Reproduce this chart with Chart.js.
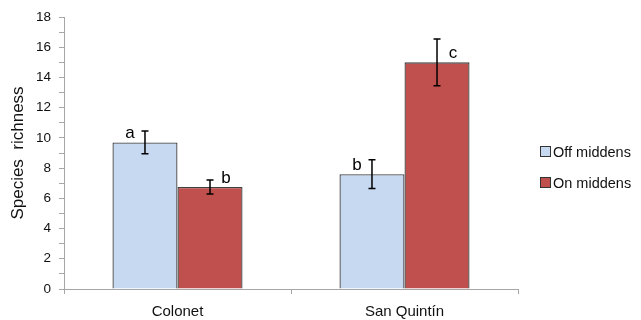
<!DOCTYPE html>
<html>
<head>
<meta charset="utf-8">
<script src="https://cdn.jsdelivr.net/npm/chart.js@4"></script>
<style>
  html, body { margin: 0; padding: 0; background: #fff; }
  #wrap { width: 641px; height: 320px; position: relative; }
</style>
</head>
<body>
<div id="wrap"><canvas id="chart" width="641" height="320"></canvas></div>
<script>
const categories = ['Colonet', 'San Quintín']
const seriesNames = ['Off middens', 'On middens']
const offMiddens = [9.7, 7.6]
const onMiddens = [6.75, 15.0]
const offErr = [0.75, 0.95]
const onErr = [0.47, 1.55]
const offLetters = ['a', 'b']
const onLetters = ['b', 'c']
const yTicks = [0, 2, 4, 6, 8, 10, 12, 14, 16, 18]

const FONT = "'Liberation Sans', Arial, sans-serif"

// error bars + significance letters, placed through the scales
const errorBars = {
    id: 'errorBars',
    afterDatasetsDraw(chart) {
        let ctx = chart.ctx
        let y = chart.scales.y
        let errs = [offErr, onErr]
        let letters = [offLetters, onLetters]
        chart.data.datasets.forEach((ds, di) => {
            let meta = chart.getDatasetMeta(di)
            meta.data.forEach((bar, i) => {
                let v = ds.data[i]
                let e = errs[di][i]
                let x = bar.x
                let top = y.getPixelForValue(v + e)
                let bot = y.getPixelForValue(v - e)
                ctx.save()
                ctx.strokeStyle = '#000'
                ctx.lineWidth = 1.5
                ctx.beginPath()
                ctx.moveTo(x, top); ctx.lineTo(x, bot)
                ctx.moveTo(x - 3.5, top); ctx.lineTo(x + 3.5, top)
                ctx.moveTo(x - 3.5, bot); ctx.lineTo(x + 3.5, bot)
                ctx.stroke()
                ctx.fillStyle = '#000'
                ctx.font = '17px ' + FONT
                ctx.textAlign = 'center'
                ctx.textBaseline = 'middle'
                let dx = di === 0 ? -15 : 16
                ctx.fillText(letters[di][i], x + dx, bar.y - 9)
                ctx.restore()
            })
        })
    }
}

// legend at the right, like the original
const sideLegend = {
    id: 'sideLegend',
    afterDraw(chart) {
        let ctx = chart.ctx
        let rows = [152, 183]
        chart.data.datasets.forEach((ds, di) => {
            ctx.save()
            ctx.fillStyle = ds.backgroundColor
            ctx.strokeStyle = '#333'
            ctx.lineWidth = 1
            ctx.fillRect(540.5, rows[di] - 5.5, 10, 10)
            ctx.strokeRect(540.5, rows[di] - 5.5, 10, 10)
            ctx.fillStyle = '#111'
            ctx.font = '14.5px ' + FONT
            ctx.textAlign = 'left'
            ctx.textBaseline = 'middle'
            ctx.fillText(ds.label, 553, rows[di] + 1)
            ctx.restore()
        })
    }
}

new Chart(document.getElementById('chart'), {
    type: 'bar',
    data: {
        labels: categories,
        datasets: [{
            label: seriesNames[0],
            data: offMiddens,
            backgroundColor: '#c6d9f1',
            borderColor: '#404040',
            borderWidth: 1.3,
            categoryPercentage: 0.573,
            barPercentage: 1.0
        }, {
            label: seriesNames[1],
            data: onMiddens,
            backgroundColor: '#c0504d',
            borderColor: '#404040',
            borderWidth: 1.3,
            categoryPercentage: 0.573,
            barPercentage: 1.0
        }]
    },
    options: {
        responsive: false,
        animation: false,
        devicePixelRatio: 1,
        layout: { padding: { top: 17, right: 123, left: 0, bottom: 0 } },
        plugins: { legend: { display: false }, tooltip: { enabled: false } },
        scales: {
            x: {
                offset: true,
                grid: { display: true, offset: true, drawOnChartArea: false, color: '#a6a6a6', tickLength: 5 },
                border: { color: '#a6a6a6', width: 1 },
                ticks: { color: '#111', font: { family: FONT, size: 15 }, padding: 9, maxRotation: 0 },
                afterFit(scale) { scale.height = 31 }
            },
            y: {
                min: 0, max: 18,
                grid: { display: true, drawOnChartArea: false, color: '#a6a6a6', tickLength: 5 },
                border: { color: '#a6a6a6', width: 1 },
                ticks: {
                    stepSize: 1,
                    autoSkip: false,
                    color: '#111',
                    font: { family: FONT, size: 13.5 },
                    padding: 8,
                    callback: v => yTicks.includes(v) ? v : ''
                },
                title: {
                    display: true,
                    text: 'Species  richness',
                    color: '#111',
                    font: { family: FONT, size: 17 },
                    padding: { top: 8, bottom: 2 }
                },
                afterFit(scale) { scale.width = 64 }
            }
        }
    },
    plugins: [errorBars, sideLegend]
})
</script>
</body>
</html>
